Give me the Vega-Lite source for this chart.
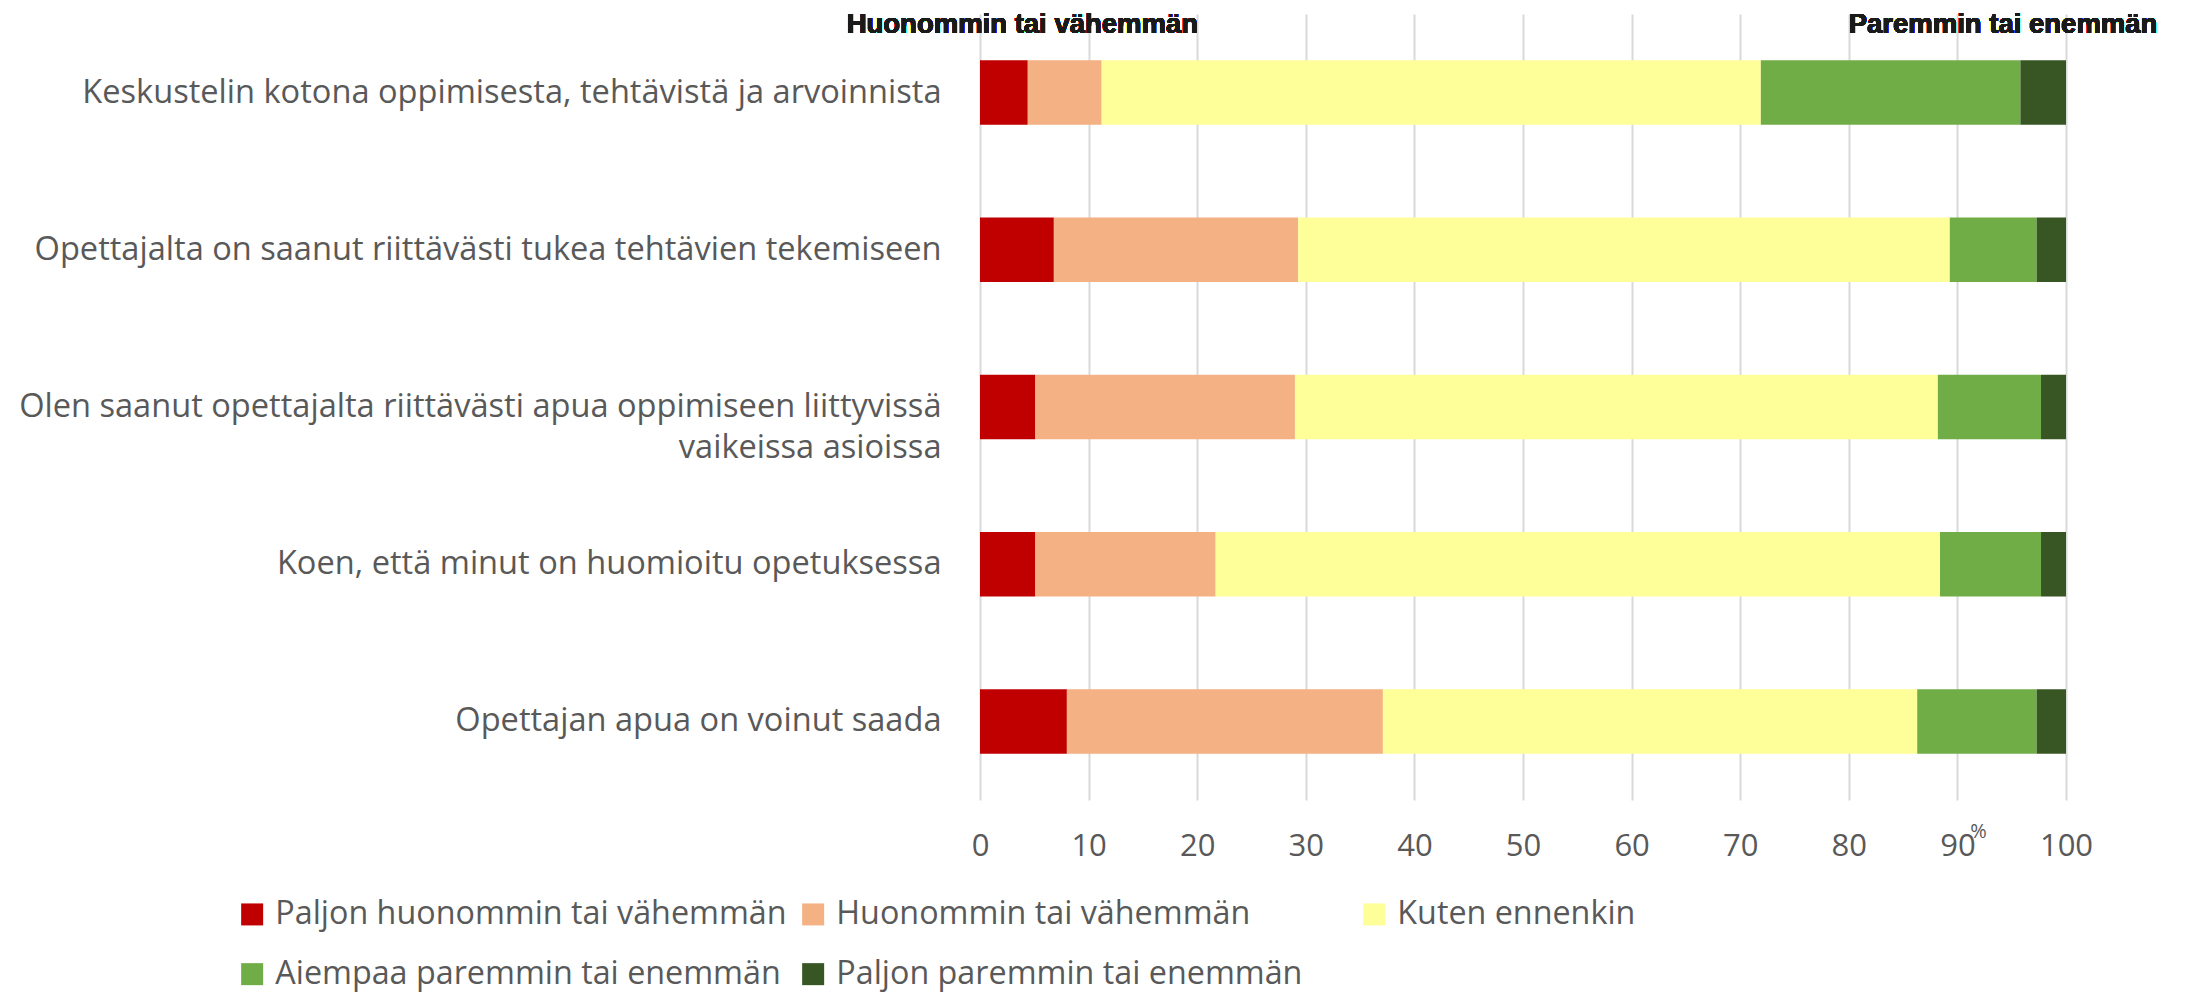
{
  "$schema": "https://vega.github.io/schema/vega-lite/v6.json",
  "autosize": {"type": "none"},
  "padding": {"left": 980, "top": 14, "right": 121, "bottom": 192},
  "width": 1086,
  "height": 786,
  "background": "white",
  "config": {"view": {"stroke": null}, "font": "Open Sans"},
  "data": {
    "values": [
      {"item": "Keskustelin kotona oppimisesta, tehtävistä ja arvoinnista", "response": "Paljon huonommin tai vähemmän", "pct": 4.4},
      {"item": "Keskustelin kotona oppimisesta, tehtävistä ja arvoinnista", "response": "Huonommin tai vähemmän", "pct": 6.8},
      {"item": "Keskustelin kotona oppimisesta, tehtävistä ja arvoinnista", "response": "Kuten ennenkin", "pct": 60.7},
      {"item": "Keskustelin kotona oppimisesta, tehtävistä ja arvoinnista", "response": "Aiempaa paremmin tai enemmän", "pct": 23.9},
      {"item": "Keskustelin kotona oppimisesta, tehtävistä ja arvoinnista", "response": "Paljon paremmin tai enemmän", "pct": 4.2},
      {"item": "Opettajalta on saanut riittävästi tukea tehtävien tekemiseen", "response": "Paljon huonommin tai vähemmän", "pct": 6.8},
      {"item": "Opettajalta on saanut riittävästi tukea tehtävien tekemiseen", "response": "Huonommin tai vähemmän", "pct": 22.5},
      {"item": "Opettajalta on saanut riittävästi tukea tehtävien tekemiseen", "response": "Kuten ennenkin", "pct": 60.0},
      {"item": "Opettajalta on saanut riittävästi tukea tehtävien tekemiseen", "response": "Aiempaa paremmin tai enemmän", "pct": 8.0},
      {"item": "Opettajalta on saanut riittävästi tukea tehtävien tekemiseen", "response": "Paljon paremmin tai enemmän", "pct": 2.7},
      {"item": "Olen saanut opettajalta riittävästi apua oppimiseen liittyvissä vaikeissa asioissa", "response": "Paljon huonommin tai vähemmän", "pct": 5.1},
      {"item": "Olen saanut opettajalta riittävästi apua oppimiseen liittyvissä vaikeissa asioissa", "response": "Huonommin tai vähemmän", "pct": 23.9},
      {"item": "Olen saanut opettajalta riittävästi apua oppimiseen liittyvissä vaikeissa asioissa", "response": "Kuten ennenkin", "pct": 59.2},
      {"item": "Olen saanut opettajalta riittävästi apua oppimiseen liittyvissä vaikeissa asioissa", "response": "Aiempaa paremmin tai enemmän", "pct": 9.5},
      {"item": "Olen saanut opettajalta riittävästi apua oppimiseen liittyvissä vaikeissa asioissa", "response": "Paljon paremmin tai enemmän", "pct": 2.3},
      {"item": "Koen, että minut on huomioitu opetuksessa", "response": "Paljon huonommin tai vähemmän", "pct": 5.1},
      {"item": "Koen, että minut on huomioitu opetuksessa", "response": "Huonommin tai vähemmän", "pct": 16.6},
      {"item": "Koen, että minut on huomioitu opetuksessa", "response": "Kuten ennenkin", "pct": 66.7},
      {"item": "Koen, että minut on huomioitu opetuksessa", "response": "Aiempaa paremmin tai enemmän", "pct": 9.3},
      {"item": "Koen, että minut on huomioitu opetuksessa", "response": "Paljon paremmin tai enemmän", "pct": 2.3},
      {"item": "Opettajan apua on voinut saada", "response": "Paljon huonommin tai vähemmän", "pct": 8.0},
      {"item": "Opettajan apua on voinut saada", "response": "Huonommin tai vähemmän", "pct": 29.1},
      {"item": "Opettajan apua on voinut saada", "response": "Kuten ennenkin", "pct": 49.2},
      {"item": "Opettajan apua on voinut saada", "response": "Aiempaa paremmin tai enemmän", "pct": 11.0},
      {"item": "Opettajan apua on voinut saada", "response": "Paljon paremmin tai enemmän", "pct": 2.7}
    ]
  },
  "layer": [
    {
      "transform": [
        {"calculate": "indexof(['Paljon huonommin tai vähemmän', 'Huonommin tai vähemmän', 'Kuten ennenkin', 'Aiempaa paremmin tai enemmän', 'Paljon paremmin tai enemmän'], datum.response)", "as": "stackOrder"}
      ],
      "mark": {"type": "bar"},
      "encoding": {
        "y": {
          "field": "item", "type": "nominal", "sort": null,
          "scale": {"paddingInner": 0.59, "paddingOuter": 0.295},
          "axis": {
            "title": null, "ticks": false, "domain": false, "grid": false,
            "labelFontSize": 32.6, "labelColor": "#595959", "labelPadding": 39,
            "labelLimit": 1200, "labelLineHeight": 41,
            "labelExpr": "datum.label == 'Olen saanut opettajalta riittävästi apua oppimiseen liittyvissä vaikeissa asioissa' ? ['Olen saanut opettajalta riittävästi apua oppimiseen liittyvissä', 'vaikeissa asioissa'] : datum.label"
          }
        },
        "x": {
          "field": "pct", "type": "quantitative", "stack": "zero",
          "scale": {"domain": [0, 100], "nice": false},
          "axis": {
            "values": [0, 10, 20, 30, 40, 50, 60, 70, 80, 90, 100],
            "ticks": false, "domain": false, "grid": true,
            "gridColor": "#D9D9D9", "gridWidth": 2,
            "labelFontSize": 31, "labelColor": "#595959", "labelPadding": 46,
            "labelBaseline": "middle", "labelFlush": false,
            "title": "%", "titleX": 998, "titleY": 31, "titleFontSize": 20,
            "titleFontWeight": "normal", "titleColor": "#595959",
            "titleAlign": "center", "titleBaseline": "middle"
          }
        },
        "order": {"field": "stackOrder", "type": "quantitative", "sort": "ascending"},
        "color": {
          "field": "response", "type": "nominal",
          "sort": ["Paljon huonommin tai vähemmän", "Huonommin tai vähemmän", "Kuten ennenkin", "Aiempaa paremmin tai enemmän", "Paljon paremmin tai enemmän"],
          "scale": {
            "domain": ["Paljon huonommin tai vähemmän", "Huonommin tai vähemmän", "Kuten ennenkin", "Aiempaa paremmin tai enemmän", "Paljon paremmin tai enemmän"],
            "range": ["#C00000", "#F4B183", "#FFFF99", "#70AD47", "#375623"]
          },
          "legend": {
            "title": null, "orient": "none", "legendX": -744, "legendY": 884,
            "direction": "horizontal", "columns": 3, "gridAlign": "all",
            "columnPadding": 10, "rowPadding": 27,
            "symbolType": "square", "symbolSize": 484, "symbolStrokeWidth": 0,
            "labelFontSize": 32.3, "labelColor": "#595959", "labelOffset": 7,
            "labelLimit": 1000
          }
        }
      }
    },
    {
      "mark": {"type": "text", "font": "Liberation Sans", "fontWeight": "bold", "fontSize": 27.5, "color": "#1a1a1a", "baseline": "middle", "align": "center", "dy": -68},
      "encoding": {
        "x": {"datum": 3.9},
        "y": {"datum": "Keskustelin kotona oppimisesta, tehtävistä ja arvoinnista"},
        "text": {"value": "Huonommin tai vähemmän"}
      }
    },
    {
      "mark": {"type": "text", "font": "Liberation Sans", "fontWeight": "bold", "fontSize": 27.5, "color": "#1a1a1a", "baseline": "middle", "align": "center", "dy": -68},
      "encoding": {
        "x": {"datum": 94.2},
        "y": {"datum": "Keskustelin kotona oppimisesta, tehtävistä ja arvoinnista"},
        "text": {"value": "Paremmin tai enemmän"}
      }
    }
  ]
}
